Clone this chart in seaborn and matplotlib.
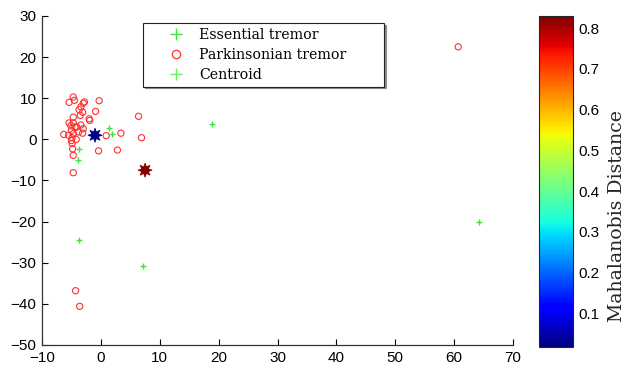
import numpy as np
import seaborn as sns
import matplotlib.pyplot as plt
from matplotlib.lines import Line2D
from matplotlib.colors import Normalize
from matplotlib.cm import ScalarMappable

# Essential tremor samples
essential_x = [-3.8, -3.9, 1.3, 1.9, 18.8, -3.7, 7.2, 64.2]
essential_y = [-2.4, -4.9, 2.8, 1.2, 3.8, -24.4, -30.9, -20.2]

# Parkinsonian tremor samples
parkinson_x = [60.7, -4.7, -5.4, -0.3, -3.0, -3.4, -3.7, -3.1, -0.9, -4.7,
               -3.5, -1.9, -5.4, -4.7, -3.4, -4.1, -3.0, -5.0, -6.3, -5.5,
               -4.7, -3.8, -3.1, -4.9, -4.2, -4.9, -4.8, -4.7, -4.7, -0.4,
               2.8, 0.9, 3.4, 6.4, 6.9, -4.3, -3.6, -4.5, -2.8, -5.1, -4.4,
               -5.0, -2.0]
parkinson_y = [22.5, 10.3, 9.0, 9.4, 8.8, 7.9, 7.2, 6.6, 6.8, 5.4,
               5.8, 4.6, 4.0, 4.0, 3.5, 3.0, 2.6, 2.2, 1.2, 1.0,
               1.4, 1.8, 1.5, 0.4, 0.0, -1.0, -2.3, -3.9, -8.1, -2.8,
               -2.6, 0.9, 1.5, 5.6, 0.4, -36.8, -40.6, 9.5, 9.1, 3.3, 3.0,
               -0.3, 5.0]

# Centroids coloured by Mahalanobis distance
centroid_x = [-1.0, 7.5]
centroid_y = [1.0, -7.5]
centroid_dist = [0.017, 0.83]

dist_min, dist_max = 0.017, 0.83
cbar_ticks = [0.1, 0.2, 0.3, 0.4, 0.5, 0.6, 0.7, 0.8]

sns.set_theme(style="white")
plt.rcParams["font.family"] = ["Liberation Sans", "DejaVu Sans"]
plt.rcParams["text.color"] = "black"
plt.rcParams["xtick.color"] = "black"
plt.rcParams["ytick.color"] = "black"

fig = plt.figure(figsize=(6.33, 3.65), dpi=100)
ax = fig.add_axes([0.0664, 0.0548, 0.744, 0.9014])
cax = fig.add_axes([0.8515, 0.049, 0.0545, 0.907])

jet = plt.get_cmap("jet")
green = "#3ce63c"
sns.scatterplot(x=parkinson_x, y=parkinson_y, marker="o", color="#ff3030",
                facecolor="none", edgecolor="#ff3030", s=20, linewidth=0.8, ax=ax)
sns.scatterplot(x=essential_x, y=essential_y, marker="+", color=green,
                s=22, linewidth=1.0, ax=ax)

norm = Normalize(vmin=dist_min, vmax=dist_max)
sns.scatterplot(x=centroid_x, y=centroid_y, hue=centroid_dist, palette=jet,
                hue_norm=norm, marker=(8, 1, 0), s=100, linewidth=0.6,
                edgecolor="face", legend=False, ax=ax)

ax.set_xlim(-10, 70)
ax.set_ylim(-50, 30)
ax.set_xticks(np.arange(-10, 71, 10))
ax.set_yticks(np.arange(-50, 31, 10))
ax.tick_params(direction="in", length=4, width=0.8, labelsize=11, pad=4,
               bottom=True, left=True)
for side in ["top", "right"]:
    ax.spines[side].set_visible(False)
for side in ["left", "bottom"]:
    ax.spines[side].set_color("#333333")
    ax.spines[side].set_linewidth(0.9)

handles = [
    Line2D([], [], marker="+", color=green, ls="none", markersize=8, mew=1.0),
    Line2D([], [], marker="o", color="#ff3030", mfc="none", ls="none",
           markersize=6, mew=0.9),
    Line2D([], [], marker="+", color="#66ee66", ls="none", markersize=8, mew=1.0),
]
labels = ["Essential tremor", "Parkinsonian tremor", "Centroid"]
leg = ax.legend(handles, labels, loc="upper left",
                bbox_to_anchor=(0.2144, 0.790, 0.512, 0.189), mode="expand",
                borderaxespad=0, prop={"family": "DejaVu Serif", "size": 10.2},
                handlelength=4.0, handletextpad=-0.37, labelspacing=0.42,
                borderpad=0.35, frameon=True, fancybox=False, framealpha=1,
                edgecolor="#222222",
                shadow={"ox": 1.2, "oy": -1.2, "color": "0.55", "alpha": 1})
leg.get_frame().set_linewidth(0.8)

cb = fig.colorbar(ScalarMappable(norm=norm, cmap=jet), cax=cax)
cb.set_ticks(cbar_ticks)
cb.outline.set_linewidth(0.8)
cb.ax.tick_params(direction="in", length=4, width=0.8, labelsize=11,
                  left=True, right=True)
cb.set_label("Mahalanobis Distance", family="DejaVu Serif", size=13.6)
cb.ax.yaxis.set_label_coords(2.0, 0.395)

fig.savefig("out.png", dpi=100)
